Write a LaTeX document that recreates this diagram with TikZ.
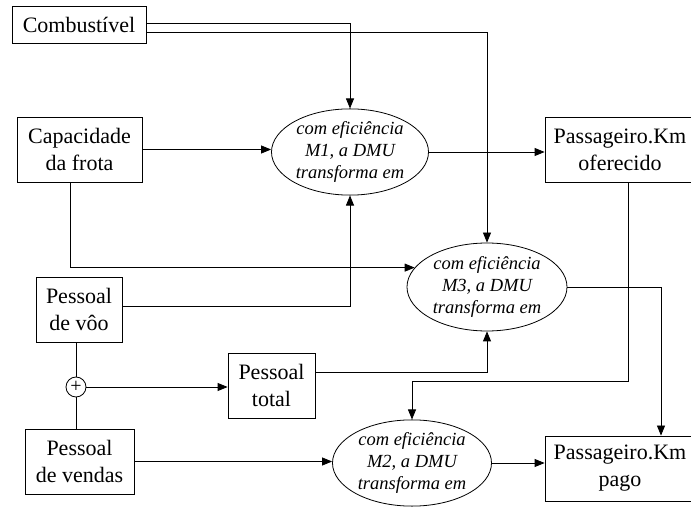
\documentclass[tikz,border=0pt]{standalone}
\usepackage{fontspec}
\setmainfont{Liberation Serif}
\usetikzlibrary{shapes.geometric,arrows.meta,calc}
\begin{document}
\begin{tikzpicture}[x=1pt,y=-1pt,
  line width=0.8pt,
  box/.style={draw,rectangle,inner sep=0pt,align=center,font=\fontsize{22}{27}\selectfont},
  eli/.style={draw,ellipse,inner sep=0pt,align=center,font=\fontsize{18.5}{22}\selectfont\itshape},
  arr/.style={-{Triangle[length=10pt,width=8pt]}},
  plusnode/.style={draw,circle,minimum size=20pt,inner sep=0pt,font=\fontsize{20}{20}\selectfont}]
\useasboundingbox (0,0) rectangle (691,510);
\clip (0,0) rectangle (691,510);
\fill[white] (0,0) rectangle (691,510);

% boxes
\node[box,minimum width=134pt,minimum height=37pt] (comb) at (79,24.5) {Combustível};
\node[box,minimum width=125pt,minimum height=65pt] (cap) at (79.5,149.5) {Capacidade\\da frota};
\node[box,minimum width=86pt,minimum height=65pt] (vo) at (79,309.5) {Pessoal\\de vôo};
\node[box,minimum width=87pt,minimum height=65pt] (total) at (271.5,385.5) {Pessoal\\total};
\node[box,minimum width=109pt,minimum height=65pt] (vendas) at (79.5,461.5) {Pessoal\\de vendas};
\node[box,minimum width=150pt,minimum height=65pt] (ofe) at (620,149.5) {Passageiro.Km\\oferecido};
\node[box,minimum width=150pt,minimum height=65pt] (pago) at (620,468.5) {Passageiro.Km\\pago};

% ellipses
\node[eli,minimum width=157pt,minimum height=86pt] (M1) at (350,152) {com eficiência\\M1, a DMU\\transforma em};
\node[eli,minimum width=160pt,minimum height=88pt] (M3) at (487,287) {com eficiência\\M3, a DMU\\transforma em};
\node[eli,minimum width=159pt,minimum height=84pt] (M2) at (412,463) {com eficiência\\M2, a DMU\\transforma em};

% plus
\node[plusnode] (plus) at (76,387) {+};

% connectors
\draw[arr] ([yshift=1.5pt]comb.east) -| (M1.north);
\draw[arr] ([yshift=-7.5pt]comb.east) -| (M3.north);
\draw[arr] (cap.east) -- (cap.east -| M1.west);
\draw[arr] (M1.east) -- (M1.east -| ofe.west);
\draw[arr] ([xshift=-9.5pt]cap.south) |- (M3.165);
\draw[arr] ([yshift=3.5pt]vo.east) -| (M1.south);
\draw (plus) -- (plus |- vo.south);
\draw (plus) -- (plus |- vendas.north);
\draw[arr] (plus.east) -- (plus.east -| total.west);
\draw[arr] ([yshift=13.5pt]total.east) -| (M3.south);
\draw[arr] (M3.east) -| ([xshift=41pt]pago.north);
\draw[arr] ([xshift=8pt]ofe.south) -- ++(0,199) -| (M2.north);
\draw[arr] (vendas.east) -- (vendas.east -| M2.west);
\draw[arr] (M2.east) -- (M2.east -| pago.west);
\end{tikzpicture}
\end{document}
